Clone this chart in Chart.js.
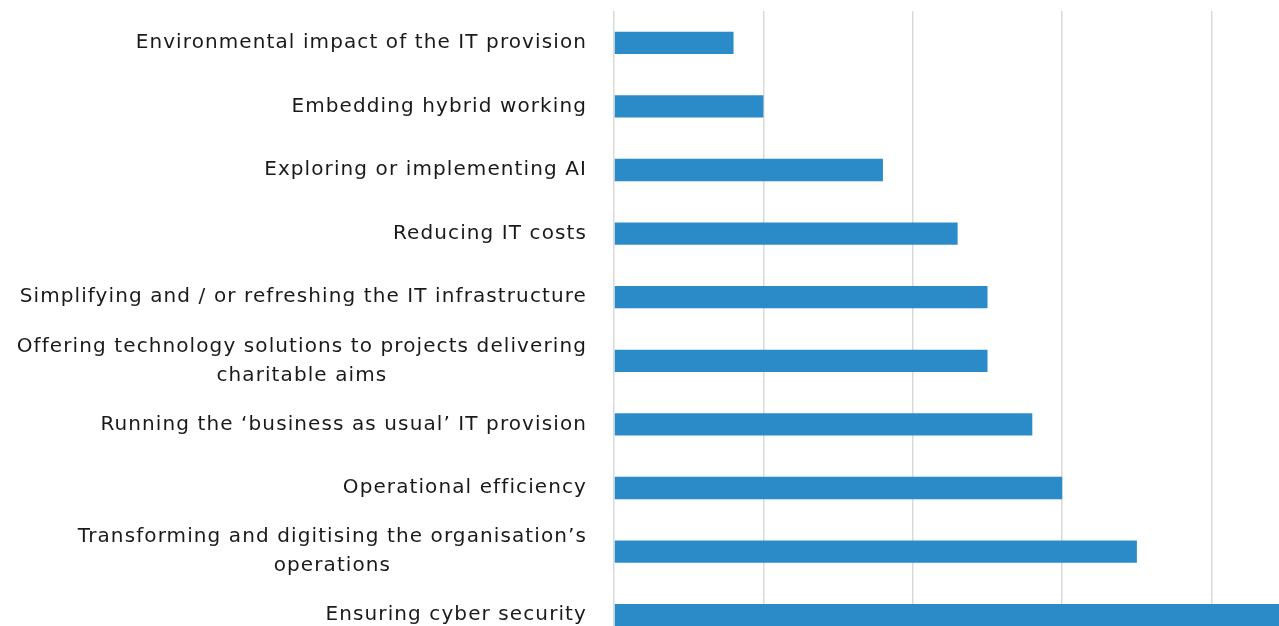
<!DOCTYPE html>
<html>
<head>
<meta charset="utf-8">
<script src="https://cdn.jsdelivr.net/npm/chart.js@4"></script>
<style>
    html, body { margin: 0; padding: 0; background: #fff; overflow: hidden; }
    #wrap { width: 1279px; height: 626px; overflow: hidden; position: relative; }
    #box { position: absolute; left: 0; top: 0; width: 1362px; height: 650px; }
</style>
</head>
<body>
<div id="wrap"><div id="box"><canvas id="prioritiesChart"></canvas></div></div>
<script>
// IT priorities, share of respondents (%)
const priorities = [
    "Environmental impact of the IT provision",
    "Embedding hybrid working",
    "Exploring or implementing AI",
    "Reducing IT costs",
    "Simplifying and / or refreshing the IT infrastructure",
    ["Offering technology solutions to projects delivering", "charitable aims"],
    "Running the \u2018business as usual\u2019 IT provision",
    "Operational efficiency",
    ["Transforming and digitising the organisation\u2019s", "operations"],
    "Ensuring cyber security"
];
const shares = [8, 10, 18, 23, 25, 25, 28, 30, 35, 48];
const gridTicks = [0, 10, 20, 30, 40, 50];

const LABEL_FONT = '20px "DejaVu Sans"';
const LABEL_SPACING = '1.1px';
const LABEL_GAP = 27;
const LINE_H = 29;

// draws the category labels: single lines right aligned, wrapped ones centred as a block
const categoryLabels = {
    id: 'categoryLabels',
    afterDraw(chart) {
        const ctx = chart.ctx;
        const y = chart.scales.y;
        const right = chart.chartArea.left - LABEL_GAP;
        ctx.save();
        ctx.font = LABEL_FONT;
        ctx.letterSpacing = LABEL_SPACING;
        ctx.fillStyle = '#1a1a1a';
        ctx.textBaseline = 'middle';
        priorities.forEach((lab, i) => {
            const lines = Array.isArray(lab) ? lab : [lab];
            const cy = y.getPixelForValue(i);
            const top = cy - (lines.length - 1) * LINE_H / 2;
            if (lines.length === 1) {
                ctx.textAlign = 'right';
                ctx.fillText(lines[0], right, cy);
            } else {
                const widest = Math.max(...lines.map(l => ctx.measureText(l).width));
                ctx.textAlign = 'center';
                lines.forEach((l, k) => ctx.fillText(l, right - widest / 2, top + k * LINE_H));
            }
        });
        ctx.restore();
    }
};

new Chart(document.getElementById('prioritiesChart'), {
    type: 'bar',
    data: {
        labels: priorities,
        datasets: [{
            data: shares,
            backgroundColor: '#2b8bc9',
            borderWidth: 0,
            barPercentage: 0.35,
            categoryPercentage: 1
        }]
    },
    options: {
        indexAxis: 'y',
        responsive: true,
        maintainAspectRatio: false,
        animation: false,
        layout: { padding: { top: 11, right: 1, bottom: 3 } },
        plugins: { legend: { display: false }, tooltip: { enabled: false } },
        scales: {
            x: {
                min: 0,
                max: 50,
                afterBuildTicks: s => { s.ticks = gridTicks.map(v => ({ value: v })); },
                ticks: { display: false },
                grid: { color: '#d9d9d9', lineWidth: 1.5, drawTicks: false },
                border: { display: false }
            },
            y: {
                ticks: { display: false },
                grid: { display: false },
                border: { display: false },
                afterFit: s => { s.width = 614; }
            }
        }
    },
    plugins: [categoryLabels]
});
</script>
</body>
</html>
